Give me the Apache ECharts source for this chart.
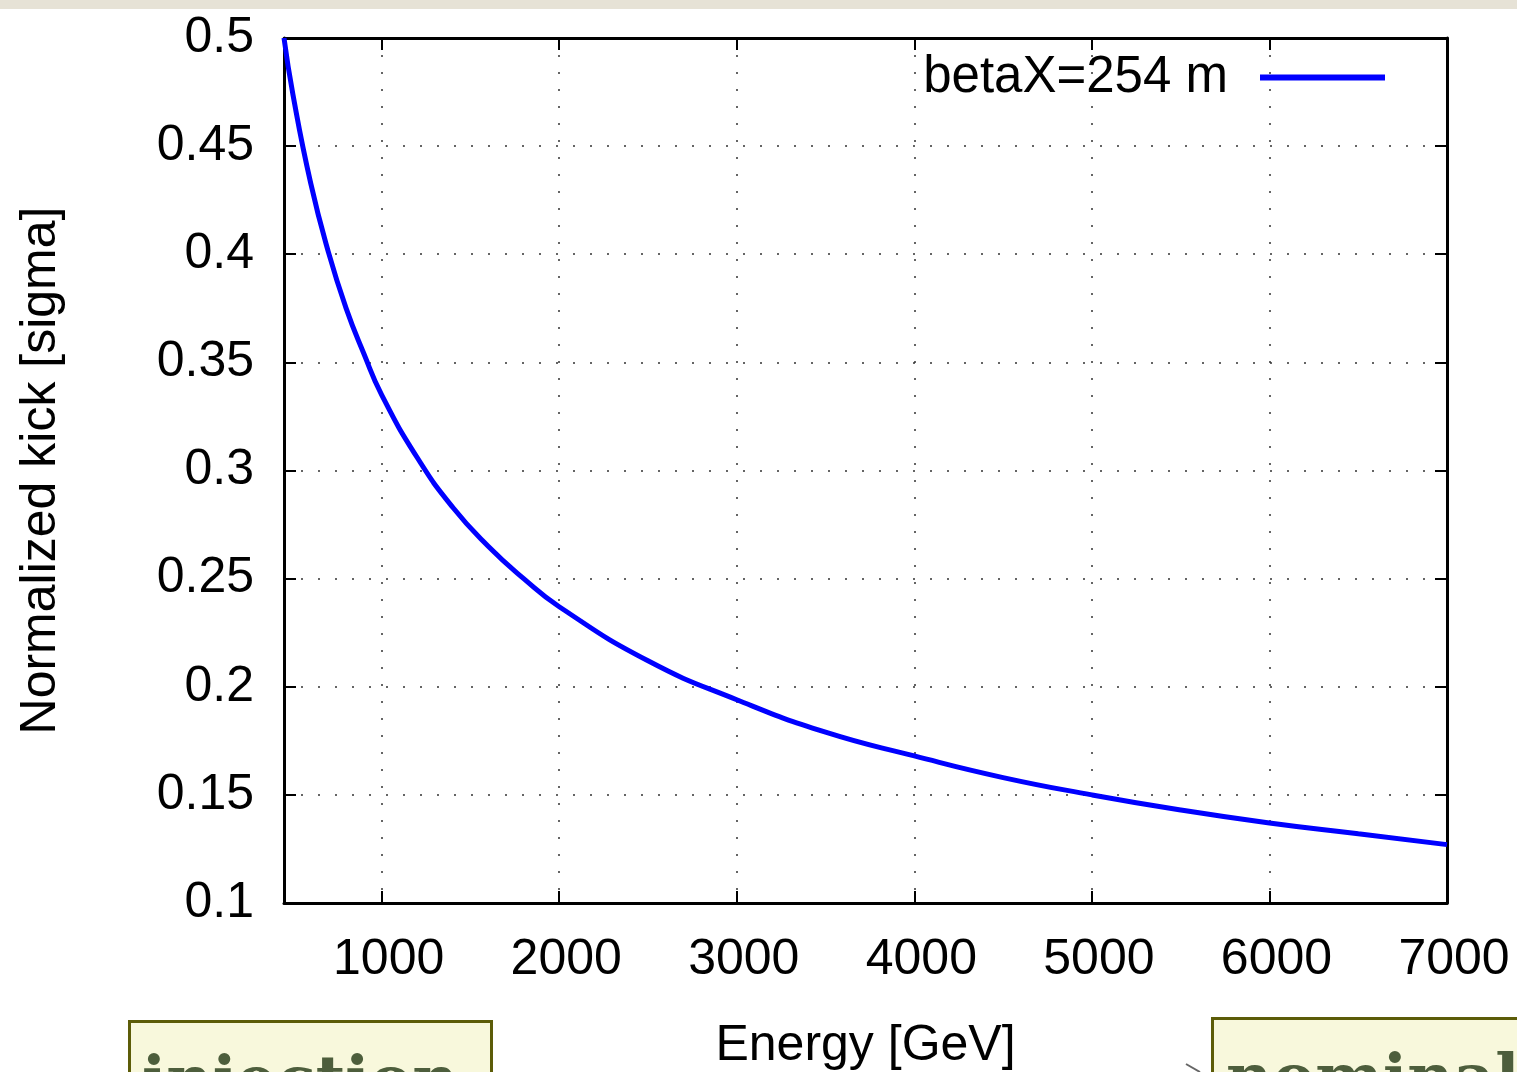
<!DOCTYPE html>
<html>
<head>
<meta charset="utf-8">
<script src="https://cdn.jsdelivr.net/npm/echarts@6/dist/echarts.min.js"></script>
<style>
  html, body { margin: 0; padding: 0; background: #fff; }
  #chart { width: 1517px; height: 1072px; }
</style>
</head>
<body>
<div id="chart"></div>
<script>
// energy [GeV] and normalized kick [sigma]
var energy = [450, 500, 600, 700, 800, 900, 1000, 1200, 1400, 1600, 1800, 2000,
              2500, 3000, 3500, 4000, 4500, 5000, 5500, 6000, 6500, 7000];
var kick = [0.500, 0.474, 0.433, 0.401, 0.375, 0.354, 0.335, 0.306, 0.283, 0.265, 0.250, 0.237,
            0.212, 0.194, 0.179, 0.168, 0.158, 0.150, 0.143, 0.137, 0.132, 0.127];
var seriesName = 'betaX=254 m';

var font = '"Liberation Sans", Arial, sans-serif';

function initChart() {
    var myChart = echarts.init(document.getElementById('chart'));

    var points = [];
    for (var i = 0; i < energy.length; i++) {
        points.push([energy[i], kick[i]]);
    }

    var tick = { show: true, inside: true, length: 12, lineStyle: { color: '#000', width: 2 } };
    var line = { show: true, lineStyle: { color: '#000', width: 3 } };
    var grid = { show: true, lineStyle: { color: '#333', width: 1.5, type: [2, 15] } };

    var option = {
        backgroundColor: '#fff',
        animation: false,
        grid: { left: 284, right: 70, top: 38, bottom: 169, outerBoundsMode: 'none', containLabel: false },
        legend: {
            right: 127, top: 47,
            align: 'right',
            itemWidth: 125, itemHeight: 6,
            textStyle: { fontFamily: font, fontSize: 51, color: '#000', padding: [0, 27, 0, 0] },
            data: [{ name: seriesName, icon: 'rect' }]
        },
        xAxis: [{
            type: 'value', min: 450, max: 7000, splitNumber: 7,
            name: 'Energy [GeV]', nameLocation: 'middle', nameGap: 118,
            nameTextStyle: { fontFamily: font, fontSize: 50, color: '#000' },
            axisLine: line, axisTick: tick, splitLine: grid,
            axisLabel: {
                fontFamily: font, fontSize: 50, color: '#000', margin: 32,
                padding: [0, 0, 0, 14],
                formatter: function (v) { return v % 1000 === 0 ? String(v) : ''; }
            }
        }, {
            type: 'value', min: 450, max: 7000, splitNumber: 7, position: 'top',
            axisLine: line, axisTick: tick, splitLine: { show: false }, axisLabel: { show: false }
        }],
        yAxis: [{
            type: 'value', min: 0.1, max: 0.5, interval: 0.05,
            name: 'Normalized kick [sigma]', nameLocation: 'middle', nameGap: 218,
            nameTextStyle: { fontFamily: font, fontSize: 50, color: '#000' },
            axisLine: line, axisTick: tick, splitLine: grid,
            axisLabel: { fontFamily: font, fontSize: 50, color: '#000', margin: 30 }
        }, {
            type: 'value', min: 0.1, max: 0.5, interval: 0.05, position: 'right',
            axisLine: line, axisTick: tick, splitLine: { show: false }, axisLabel: { show: false }
        }],
        series: [{
            name: seriesName,
            type: 'line',
            smooth: true,
            symbol: 'none',
            data: points,
            itemStyle: { color: '#0000ff' },
            lineStyle: { color: '#0000ff', width: 5 }
        }],
        graphic: [
            // slide background strip at the top
            { type: 'rect', left: 0, top: 0, shape: { width: 1517, height: 9 }, style: { fill: '#e6e2d6' } },
            // boxes from the slide below the plot
            { type: 'rect', left: 128, top: 1020, shape: { width: 362, height: 70 },
              style: { fill: '#f8f8dc', stroke: '#5c5c08', lineWidth: 3 } },
            { type: 'text', left: 142, top: 1052,
              style: { text: 'injection', fill: '#4d5e3c', font: 'bold 64px "DejaVu Serif", serif' } },
            { type: 'rect', left: 1211, top: 1017, shape: { width: 340, height: 70 },
              style: { fill: '#f8f8dc', stroke: '#5c5c08', lineWidth: 3 } },
            { type: 'text', left: 1226, top: 1050,
              style: { text: 'nominal', fill: '#4d5e3c', font: 'bold 64px "DejaVu Serif", serif' } },
            { type: 'polyline', shape: { points: [[1186, 1064], [1200, 1072]] },
              style: { stroke: '#666', lineWidth: 2 } }
        ]
    };

    myChart.setOption(option);
}

initChart();
</script>
</body>
</html>
